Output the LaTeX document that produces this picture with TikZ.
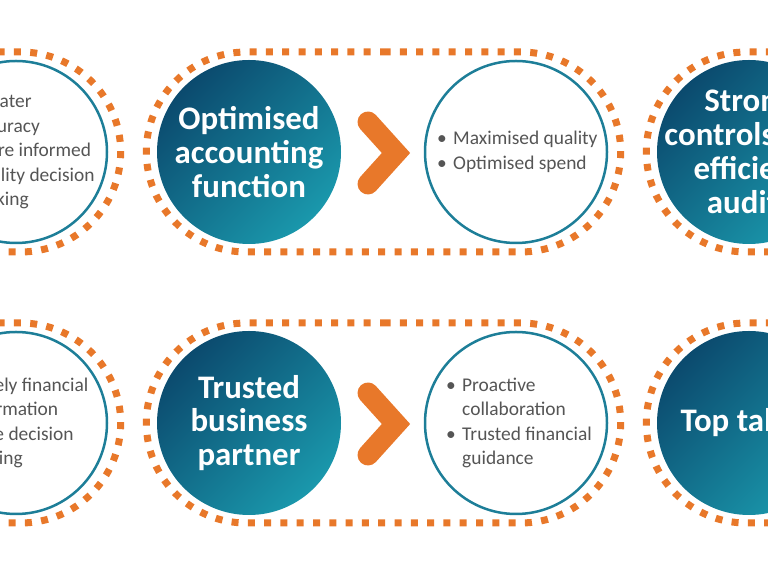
\documentclass[tikz,border=0pt]{standalone}
\usepackage{fontspec}
\setmainfont{Carlito}
\usetikzlibrary{shapes.misc}

\definecolor{dotorange}{HTML}{E8782A}
\definecolor{darkteal}{HTML}{0B4A6E}
\definecolor{lightteal}{HTML}{1A98AC}
\definecolor{ringteal}{HTML}{1D7E98}
\definecolor{bulletgray}{HTML}{555555}

\tikzset{
    card/.style={rounded rectangle, draw=dotorange, line width=7bp, dash pattern=on 7bp off 9.3bp, minimum width=481bp, minimum height=200bp},
    goal/.style={circle, minimum size=184bp, inner sep=0pt, top color=darkteal, bottom color=lightteal, shading angle=45},
    goaltext/.style={inner sep=0pt, text=white, font=\bfseries\fontsize{33}{34}\selectfont, align=center},
    result/.style={circle, minimum size=182bp, draw=ringteal, line width=2.5bp, fill=white},
    bullets/.style={anchor=west, inner sep=0pt, text=bulletgray, font=\fontsize{19.5}{24.5}\selectfont, align=left},
    chevron/.style={draw=dotorange, line width=21bp, line cap=round, line join=miter}
}

\begin{document}
\begin{tikzpicture}[x=1bp, y=1bp]
    \useasboundingbox (0,0) rectangle (768,576);
    \clip (0,0) rectangle (768,576);

    % dotted cards
    \node[card] (greaterCard) at (-116.5,424) {};
    \node[card] (optCard) at (383.5,424) {};
    \node[card] (strongCard) at (883.5,424) {};
    \node[card] (timelyCard) at (-116.5,153) {};
    \node[card] (trustedCard) at (383.5,153) {};
    \node[card] (talentCard) at (883.5,153) {};

    % goal circles
    \node[goal] (optGoal) at (249,424) {};
    \node[goal] (strongGoal) at (749,424) {};
    \node[goal] (trustedGoal) at (249,153) {};
    \node[goal] (talentGoal) at (749,153) {};
    \node[goaltext] (optText) at (optGoal) {Optimised\\accounting\\function};
    \node[goaltext] (strongText) at (strongGoal) {Strong\\controls and\\efficient\\audits};
    \node[goaltext] (trustedText) at (trustedGoal) {Trusted\\business\\partner};
    \node[goaltext] (talentText) at (talentGoal) {Top talent};

    % result circles
    \node[result] (greaterResult) at (16,424) {};
    \node[result] (optResult) at (516,424) {};
    \node[result] (timelyResult) at (16,153) {};
    \node[result] (trustedResult) at (516,153) {};

    % bullet lists
    \node[bullets] (greaterList) at (-45,424) {\makebox[16bp][l]{\textbullet}Greater\\\hspace*{16bp}accuracy\\\makebox[16bp][l]{\textbullet}More informed\\\hspace*{16bp}quality decision\\\hspace*{16bp}making};
    \node[bullets] (optList) at (437,424) {\makebox[16bp][l]{\textbullet}Maximised quality\\\makebox[16bp][l]{\textbullet}Optimised spend};
    \node[bullets] (timelyList) at (-51,153) {\makebox[16bp][l]{\textbullet}Timely financial\\\hspace*{16bp}information\\\makebox[16bp][l]{\textbullet}Agile decision\\\hspace*{16bp}making};
    \node[bullets] (trustedList) at (446,153) {\makebox[16bp][l]{\textbullet}Proactive\\\hspace*{16bp}collaboration\\\makebox[16bp][l]{\textbullet}Trusted financial\\\hspace*{16bp}guidance};

    % chevrons
    \coordinate (optArrow) at (396,423);
    \coordinate (trustedArrow) at (396,152);
    \draw[chevron] (optArrow) ++(-28,31) -- ++(28,-31) -- ++(-28,-31);
    \draw[chevron] (trustedArrow) ++(-28,31) -- ++(28,-31) -- ++(-28,-31);
\end{tikzpicture}
\end{document}
